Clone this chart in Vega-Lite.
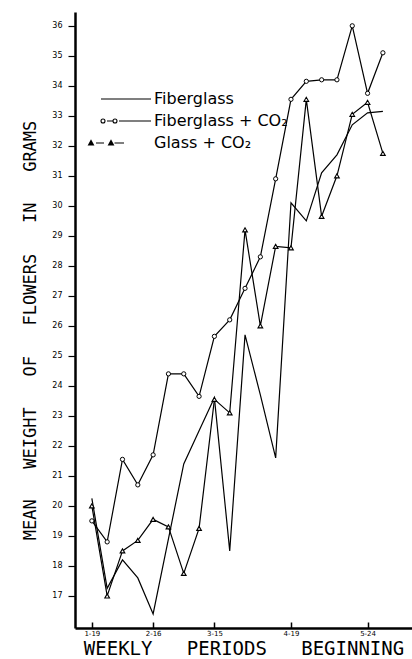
{
  "$schema": "https://vega.github.io/schema/vega-lite/v6.json",
  "width": 337,
  "height": 616,
  "autosize": {"type": "none"},
  "padding": {"left": 75, "top": 12, "right": 0, "bottom": 31},
  "background": "white",
  "config": {"view": {"stroke": null}, "font": "DejaVu Sans"},
  "data": {
    "values": [
      {"week": 0, "series": "Fiberglass", "value": 20.25},
      {"week": 1, "series": "Fiberglass", "value": 17.25},
      {"week": 2, "series": "Fiberglass", "value": 18.2},
      {"week": 3, "series": "Fiberglass", "value": 17.6},
      {"week": 4, "series": "Fiberglass", "value": 16.4},
      {"week": 5, "series": "Fiberglass", "value": 18.9},
      {"week": 6, "series": "Fiberglass", "value": 21.4},
      {"week": 7, "series": "Fiberglass", "value": 22.5},
      {"week": 8, "series": "Fiberglass", "value": 23.6},
      {"week": 9, "series": "Fiberglass", "value": 18.5},
      {"week": 10, "series": "Fiberglass", "value": 25.7},
      {"week": 11, "series": "Fiberglass", "value": 23.7},
      {"week": 12, "series": "Fiberglass", "value": 21.6},
      {"week": 13, "series": "Fiberglass", "value": 30.1},
      {"week": 14, "series": "Fiberglass", "value": 29.5},
      {"week": 15, "series": "Fiberglass", "value": 31.1},
      {"week": 16, "series": "Fiberglass", "value": 31.7},
      {"week": 17, "series": "Fiberglass", "value": 32.7},
      {"week": 18, "series": "Fiberglass", "value": 33.1},
      {"week": 19, "series": "Fiberglass", "value": 33.15},
      {"week": 0, "series": "Fiberglass + CO₂", "value": 19.5},
      {"week": 1, "series": "Fiberglass + CO₂", "value": 18.8},
      {"week": 2, "series": "Fiberglass + CO₂", "value": 21.55},
      {"week": 3, "series": "Fiberglass + CO₂", "value": 20.7},
      {"week": 4, "series": "Fiberglass + CO₂", "value": 21.7},
      {"week": 5, "series": "Fiberglass + CO₂", "value": 24.4},
      {"week": 6, "series": "Fiberglass + CO₂", "value": 24.4},
      {"week": 7, "series": "Fiberglass + CO₂", "value": 23.65},
      {"week": 8, "series": "Fiberglass + CO₂", "value": 25.65},
      {"week": 9, "series": "Fiberglass + CO₂", "value": 26.2},
      {"week": 10, "series": "Fiberglass + CO₂", "value": 27.25},
      {"week": 11, "series": "Fiberglass + CO₂", "value": 28.3},
      {"week": 12, "series": "Fiberglass + CO₂", "value": 30.9},
      {"week": 13, "series": "Fiberglass + CO₂", "value": 33.55},
      {"week": 14, "series": "Fiberglass + CO₂", "value": 34.15},
      {"week": 15, "series": "Fiberglass + CO₂", "value": 34.2},
      {"week": 16, "series": "Fiberglass + CO₂", "value": 34.2},
      {"week": 17, "series": "Fiberglass + CO₂", "value": 36.0},
      {"week": 18, "series": "Fiberglass + CO₂", "value": 33.75},
      {"week": 19, "series": "Fiberglass + CO₂", "value": 35.1},
      {"week": 0, "series": "Glass + CO₂", "value": 20.0},
      {"week": 1, "series": "Glass + CO₂", "value": 17.0},
      {"week": 2, "series": "Glass + CO₂", "value": 18.5},
      {"week": 3, "series": "Glass + CO₂", "value": 18.85},
      {"week": 4, "series": "Glass + CO₂", "value": 19.55},
      {"week": 5, "series": "Glass + CO₂", "value": 19.3},
      {"week": 6, "series": "Glass + CO₂", "value": 17.75},
      {"week": 7, "series": "Glass + CO₂", "value": 19.25},
      {"week": 8, "series": "Glass + CO₂", "value": 23.55},
      {"week": 9, "series": "Glass + CO₂", "value": 23.1},
      {"week": 10, "series": "Glass + CO₂", "value": 29.2},
      {"week": 11, "series": "Glass + CO₂", "value": 26.0},
      {"week": 12, "series": "Glass + CO₂", "value": 28.65},
      {"week": 13, "series": "Glass + CO₂", "value": 28.6},
      {"week": 14, "series": "Glass + CO₂", "value": 33.55},
      {"week": 15, "series": "Glass + CO₂", "value": 29.65},
      {"week": 16, "series": "Glass + CO₂", "value": 31.0},
      {"week": 17, "series": "Glass + CO₂", "value": 33.05},
      {"week": 18, "series": "Glass + CO₂", "value": 33.45},
      {"week": 19, "series": "Glass + CO₂", "value": 31.75}
    ]
  },
  "encoding": {
    "x": {
      "field": "week",
      "type": "quantitative",
      "scale": {"domain": [-1.1, 20.9], "nice": false, "zero": false},
      "axis": {
        "values": [0, 4, 8, 13, 18],
        "labelExpr": "datum.value == 0 ? '1-19' : datum.value == 4 ? '2-16' : datum.value == 8 ? '3-15' : datum.value == 13 ? '4-19' : '5-24'",
        "title": "WEEKLY \u00a0\u00a0PERIODS \u00a0\u00a0BEGINNING",
        "titleFont": "DejaVu Sans Mono",
        "titleFontSize": 19,
        "titleFontWeight": "normal",
        "titleColor": "black",
        "titlePadding": 3,
        "labelFont": "DejaVu Sans",
        "labelFontSize": 7,
        "labelColor": "black",
        "labelPadding": 7,
        "tickSize": -6,
        "tickWidth": 1.5,
        "tickColor": "black",
        "domainColor": "black",
        "domainWidth": 2.5,
        "grid": false
      }
    },
    "y": {
      "field": "value",
      "type": "quantitative",
      "scale": {"domain": [15.93, 36.46], "nice": false, "zero": false},
      "axis": {
        "values": [17, 18, 19, 20, 21, 22, 23, 24, 25, 26, 27, 28, 29, 30, 31, 32, 33, 34, 35, 36],
        "title": "MEAN \u00a0\u00a0WEIGHT \u00a0\u00a0OF \u00a0\u00a0FLOWERS \u00a0\u00a0IN \u00a0\u00a0GRAMS",
        "titleFont": "DejaVu Sans Mono",
        "titleFontSize": 17,
        "titleFontWeight": "normal",
        "titleColor": "black",
        "titlePadding": 12,
        "titleY": 318,
        "labelFont": "DejaVu Sans",
        "labelFontSize": 8,
        "labelColor": "black",
        "labelPadding": 6,
        "tickSize": 7,
        "tickWidth": 1.2,
        "tickColor": "black",
        "domainColor": "black",
        "domainWidth": 2.5,
        "grid": false
      }
    }
  },
  "layer": [
    {
      "mark": {"type": "line", "color": "black", "strokeWidth": 1.2},
      "encoding": {"detail": {"field": "series"}}
    },
    {
      "transform": [{"filter": "datum.series === 'Fiberglass + CO₂'"}],
      "mark": {"type": "point", "shape": "circle", "filled": true, "fill": "white", "stroke": "black", "strokeWidth": 1, "size": 18, "opacity": 1}
    },
    {
      "transform": [{"filter": "datum.series === 'Glass + CO₂'"}],
      "mark": {"type": "point", "shape": "triangle-up", "filled": true, "fill": "white", "stroke": "black", "strokeWidth": 1.1, "size": 22, "opacity": 1}
    },
    {
      "mark": {"type": "point", "opacity": 0},
      "encoding": {
        "shape": {
          "field": "series",
          "type": "nominal",
          "scale": {
            "domain": ["Fiberglass", "Fiberglass + CO₂", "Glass + CO₂"],
            "range": [
              "M-5,0H5",
              "M-4.2,0A0.4,0.4,0,1,1,-5,0A0.4,0.4,0,1,1,-4.2,0M-3.8,0H-2.7M-1.8,0A0.4,0.4,0,1,1,-2.6,0A0.4,0.4,0,1,1,-1.8,0M-1.4,0H5",
              "M-7.5,0.4L-7,-0.5L-6.5,0.4ZM-7,-0.15L-6.8,0.25L-7.2,0.25ZM-6,0H-4.4M-3.5,0.4L-3,-0.5L-2.5,0.4ZM-3,-0.15L-2.8,0.25L-3.2,0.25ZM-2.3,0H-0.4"
            ]
          },
          "legend": {
            "orient": "none",
            "legendX": 43,
            "legendY": 79,
            "title": null,
            "padding": 0,
            "symbolSize": 100,
            "symbolStrokeWidth": 1.1,
            "symbolStrokeColor": "black",
            "symbolFillColor": "transparent",
            "labelFont": "DejaVu Sans",
            "labelFontSize": 16,
            "labelColor": "black",
            "labelOffset": 20,
            "labelLimit": 0,
            "rowPadding": 6,
            "encode": {
              "symbols": {
                "update": {
                  "opacity": {"value": 1},
                  "strokeOpacity": {"value": 1}
                }
              }
            }
          }
        }
      }
    }
  ]
}
